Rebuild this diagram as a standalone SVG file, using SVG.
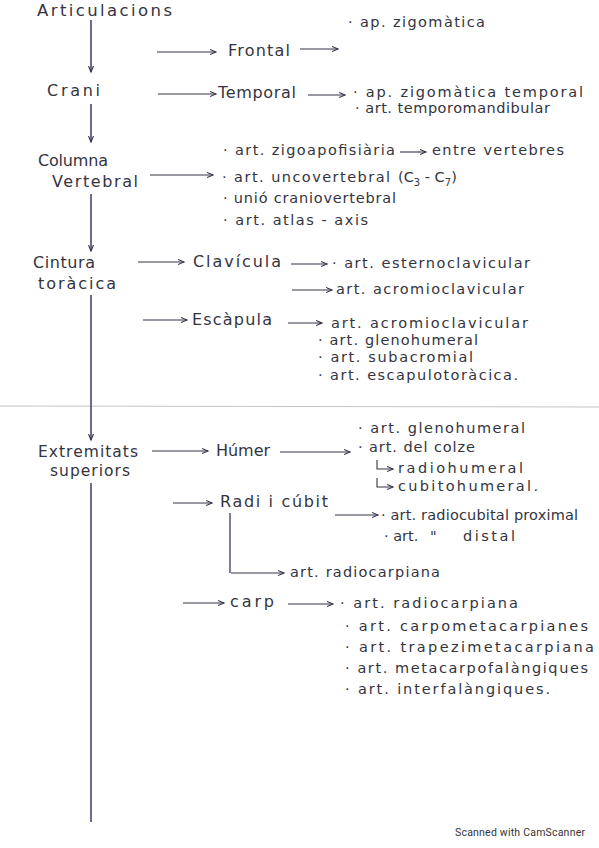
<svg xmlns="http://www.w3.org/2000/svg" width="599" height="848" viewBox="0 0 599 848">
<defs>
<marker id="ah" markerUnits="userSpaceOnUse" markerWidth="8" markerHeight="8" refX="6" refY="3" orient="auto">
<path d="M0,0.5 L6,3 L0,5.5" fill="none" stroke="#34344a" stroke-width="1.1"/>
</marker>
<style>
.t{font-family:"DejaVu Sans","Liberation Sans",sans-serif;fill:#34343f}
.m{font-size:16px}
.s{font-size:14.5px}
.c{fill:none;stroke:#34344a;stroke-width:1.1}
.v{fill:none;stroke:#3a3d66;stroke-width:1.5}
</style>
</defs>
<rect width="599" height="848" fill="#ffffff"/>
<line x1="0" y1="406" x2="599" y2="407" stroke="#c4c4c8" stroke-width="1"/>

<g id="connectors">
<line class="v" x1="91" y1="20" x2="91" y2="72" marker-end="url(#ah)"/>
<line class="v" x1="91" y1="104" x2="91" y2="142" marker-end="url(#ah)"/>
<line class="v" x1="91" y1="194" x2="91" y2="251" marker-end="url(#ah)"/>
<line class="v" x1="91" y1="295" x2="91" y2="440" marker-end="url(#ah)"/>
<line class="v" x1="91" y1="483" x2="91" y2="822"/>
<line class="c" x1="157" y1="52" x2="216" y2="52" marker-end="url(#ah)"/>
<line class="c" x1="300" y1="49" x2="338" y2="49" marker-end="url(#ah)"/>
<line class="c" x1="158" y1="94" x2="216" y2="94" marker-end="url(#ah)"/>
<line class="c" x1="308" y1="95" x2="345" y2="95" marker-end="url(#ah)"/>
<line class="c" x1="150" y1="175" x2="213" y2="175" marker-end="url(#ah)"/>
<line class="c" x1="400" y1="152" x2="426" y2="152" marker-end="url(#ah)"/>
<line class="c" x1="138" y1="262" x2="184" y2="262" marker-end="url(#ah)"/>
<line class="c" x1="291" y1="264" x2="327" y2="264" marker-end="url(#ah)"/>
<line class="c" x1="292" y1="290" x2="332" y2="290" marker-end="url(#ah)"/>
<line class="c" x1="143" y1="320" x2="187" y2="320" marker-end="url(#ah)"/>
<line class="c" x1="288" y1="323" x2="322" y2="323" marker-end="url(#ah)"/>
<line class="c" x1="152" y1="451" x2="208" y2="451" marker-end="url(#ah)"/>
<line class="c" x1="280" y1="452" x2="350" y2="452" marker-end="url(#ah)"/>
<path class="c" d="M377,460 L377,469 L393,469" marker-end="url(#ah)"/>
<path class="c" d="M377,478 L377,487 L393,487" marker-end="url(#ah)"/>
<line class="c" x1="173" y1="503" x2="212" y2="503" marker-end="url(#ah)"/>
<path class="v" d="M230,513 L230,573" style="stroke-width:1.3"/>
<line class="c" x1="231" y1="573" x2="284" y2="573" marker-end="url(#ah)"/>
<line class="c" x1="335" y1="515" x2="378" y2="515" marker-end="url(#ah)"/>
<line class="c" x1="183" y1="603" x2="224" y2="603" marker-end="url(#ah)"/>
<line class="c" x1="288" y1="604" x2="333" y2="604" marker-end="url(#ah)"/>
</g>

<g id="articulacions"><text class="t" x="37" y="16" font-size="16.5" textLength="135">Articulacions</text></g>
<g id="crani"><text class="t m" x="47" y="96" textLength="53">Crani</text></g>
<g id="frontal"><text class="t m" x="228" y="56" textLength="62">Frontal</text></g>
<g id="frontal-list"><text class="t s" x="348" y="27" textLength="137">· ap. zigomàtica</text></g>
<g id="temporal"><text class="t m" x="218" y="98" textLength="78">Temporal</text></g>
<g id="temporal-list">
<text class="t s" x="353" y="97" textLength="230">· ap. zigomàtica temporal</text>
<text class="t s" x="355" y="113" textLength="195">· art. temporomandibular</text>
</g>
<g id="columna"><text class="t m" x="38" y="166" textLength="70">Columna</text><text class="t m" x="52" y="187" textLength="86">Vertebral</text></g>
<g id="columna-list">
<text class="t s" x="223" y="155" textLength="172">· art. zigoapofisiària</text>
<text class="t s" x="432" y="155" textLength="132">entre vertebres</text>
<text class="t s" x="222" y="182" textLength="168">· art. uncovertebral</text>
<text class="t s" x="398" y="182">(C<tspan font-size="10" dy="4">3</tspan><tspan dy="-4"> - C</tspan><tspan font-size="10" dy="4">7</tspan><tspan dy="-4">)</tspan></text>
<text class="t s" x="223" y="203" textLength="173">· unió craniovertebral</text>
<text class="t s" x="223" y="225" textLength="145">· art. atlas - axis</text>
</g>
<g id="cintura"><text class="t m" x="33" y="268" textLength="62">Cintura</text><text class="t m" x="38" y="289" textLength="78">toràcica</text></g>
<g id="clavicula"><text class="t m" x="193" y="267" textLength="88">Clavícula</text></g>
<g id="clavicula-list">
<text class="t s" x="332" y="268" textLength="198">· art. esternoclavicular</text>
<text class="t s" x="336" y="294" textLength="188">art. acromioclavicular</text>
</g>
<g id="escapula"><text class="t m" x="192" y="325" textLength="80">Escàpula</text></g>
<g id="escapula-list">
<text class="t s" x="318" y="328" textLength="210">· art. acromioclavicular</text>
<text class="t s" x="318" y="345" textLength="160">· art. glenohumeral</text>
<text class="t s" x="318" y="362" textLength="155">· art. subacromial</text>
<text class="t s" x="318" y="380" textLength="200">· art. escapulotoràcica.</text>
</g>
<g id="extremitats"><text class="t" font-size="15.5" x="38" y="457" textLength="100">Extremitats</text><text class="t" font-size="15.5" x="50" y="476" textLength="80">superiors</text></g>
<g id="humer"><text class="t m" x="216" y="456" textLength="54">Húmer</text></g>
<g id="humer-list">
<text class="t s" x="358" y="433" textLength="167">· art. glenohumeral</text>
<text class="t s" x="358" y="452" textLength="117">· art. del colze</text>
<text class="t s" x="398" y="473" textLength="125">radiohumeral</text>
<text class="t s" x="398" y="491" textLength="140">cubitohumeral.</text>
</g>
<g id="radi-cubit"><text class="t m" x="220" y="507" textLength="108">Radi i cúbit</text></g>
<g id="radi-cubit-list">
<text class="t s" x="381" y="520" textLength="197">· art. radiocubital proximal</text>
<text class="t s" x="384" y="541">· art.</text>
<text class="t s" x="430" y="541">"</text>
<text class="t s" x="463" y="541" textLength="52">distal</text>
<text class="t s" x="290" y="577" textLength="150">art. radiocarpiana</text>
</g>
<g id="carp"><text class="t m" x="230" y="607" textLength="44">carp</text></g>
<g id="carp-list">
<text class="t s" x="340" y="608" textLength="178">· art. radiocarpiana</text>
<text class="t s" x="345" y="631" textLength="243">· art. carpometacarpianes</text>
<text class="t s" x="345" y="652" textLength="249">· art. trapezimetacarpiana</text>
<text class="t s" x="345" y="673" textLength="243">· art. metacarpofalàngiques</text>
<text class="t s" x="345" y="694" textLength="205">· art. interfalàngiques.</text>
</g>
<text x="455" y="836" font-family="Roboto,'Liberation Sans',sans-serif" font-size="10.5" fill="#333" textLength="130">Scanned with CamScanner</text>
</svg>
